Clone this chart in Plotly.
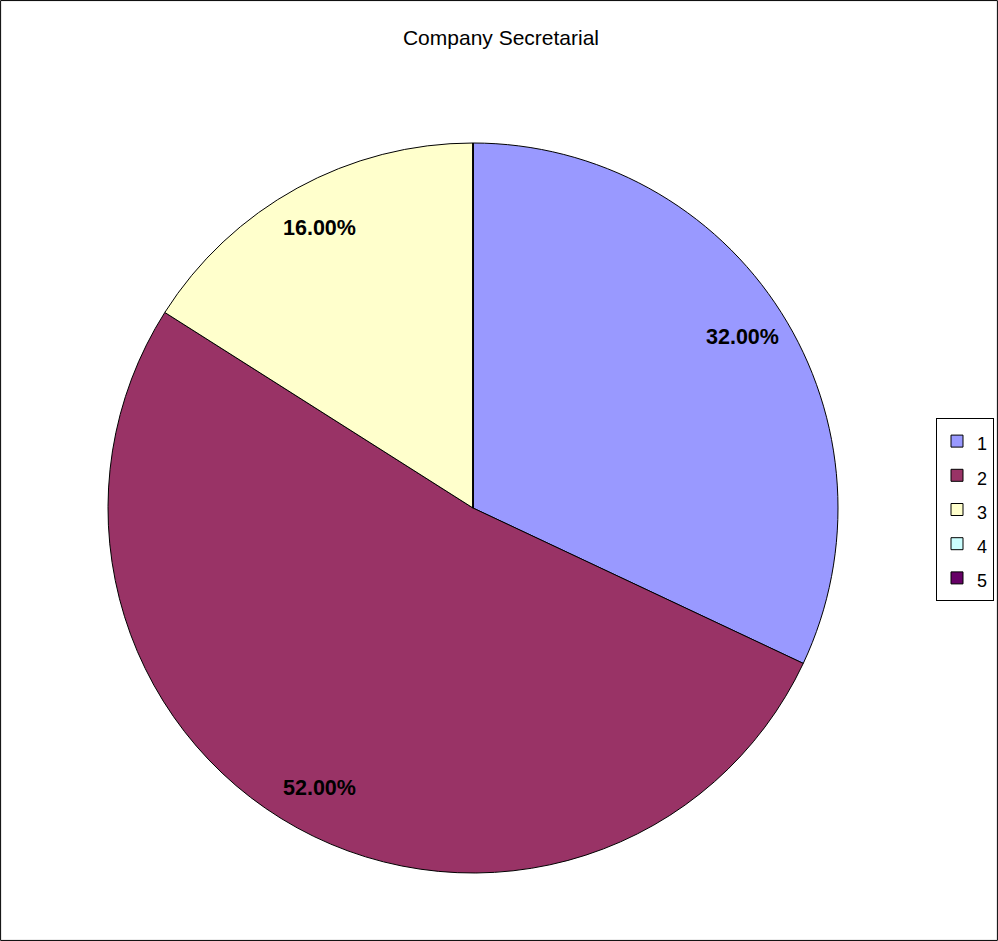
import math
import plotly.graph_objects as go

# Share of responses per category
categories = ["1", "2", "3", "4", "5"]
shares = [32.0, 52.0, 16.0, 0.0, 0.0]
colors = ["#9999FF", "#993366", "#FFFFCC", "#CCFFFF", "#660066"]
title_text = "Company Secretarial"

W, H = 998, 941
cx, cy, R = 473, 508, 365  # pie centre and radius in pixels

dom_x = [(cx - R) / W, (cx + R) / W]
dom_y = [1 - (cy + R) / H, 1 - (cy - R) / H]

FONT = "Liberation Sans, Arial"

# Legend rows are spaced by the legend font size; the visible text is drawn smaller
legend_labels = [f"<span style='font-size:18px'>{c}</span>" for c in categories]

fig = go.Figure(
    go.Pie(
        labels=legend_labels,
        values=shares,
        sort=False,
        direction="clockwise",
        rotation=0,
        marker=dict(colors=colors, line=dict(color="black", width=1)),
        textinfo="none",
        hoverinfo="percent",
        domain=dict(x=dom_x, y=dom_y),
    )
)

# Percentage labels inside each slice, along the slice bisector
total = sum(shares)
annotations = []
cum = 0.0
for v in shares:
    if v > 0:
        mid = (cum + v / 2) / total * 2 * math.pi
        r = 0.875 * R
        px = cx + r * math.sin(mid)
        py = cy - r * math.cos(mid)
        annotations.append(
            dict(
                x=px / W, y=1 - py / H, xref="paper", yref="paper",
                text=f"<b>{v / total * 100:.2f}%</b>", showarrow=False,
                font=dict(family=FONT, size=21.5, color="black"),
                xanchor="center", yanchor="middle",
            )
        )
    cum += v

fig.update_layout(
    width=W, height=H,
    margin=dict(l=0, r=0, t=0, b=0),
    paper_bgcolor="white",
    plot_bgcolor="white",
    title=dict(
        text=title_text, x=501 / W, xanchor="center", y=1 - 38 / H, yanchor="middle",
        font=dict(family=FONT, size=21, color="black"),
    ),
    legend=dict(
        x=936 / W, xanchor="left", y=1 - 418 / H, yanchor="top",
        bordercolor="black", borderwidth=1, bgcolor="white",
        font=dict(family=FONT, size=24, color="black"),
    ),
    annotations=annotations,
    shapes=[
        dict(type="rect", xref="paper", yref="paper", x0=0.0006, y0=0.0006, x1=0.9994, y1=0.9994,
             line=dict(color="black", width=1), fillcolor="rgba(0,0,0,0)", layer="above"),
    ],
)

fig.write_html("out.html")
